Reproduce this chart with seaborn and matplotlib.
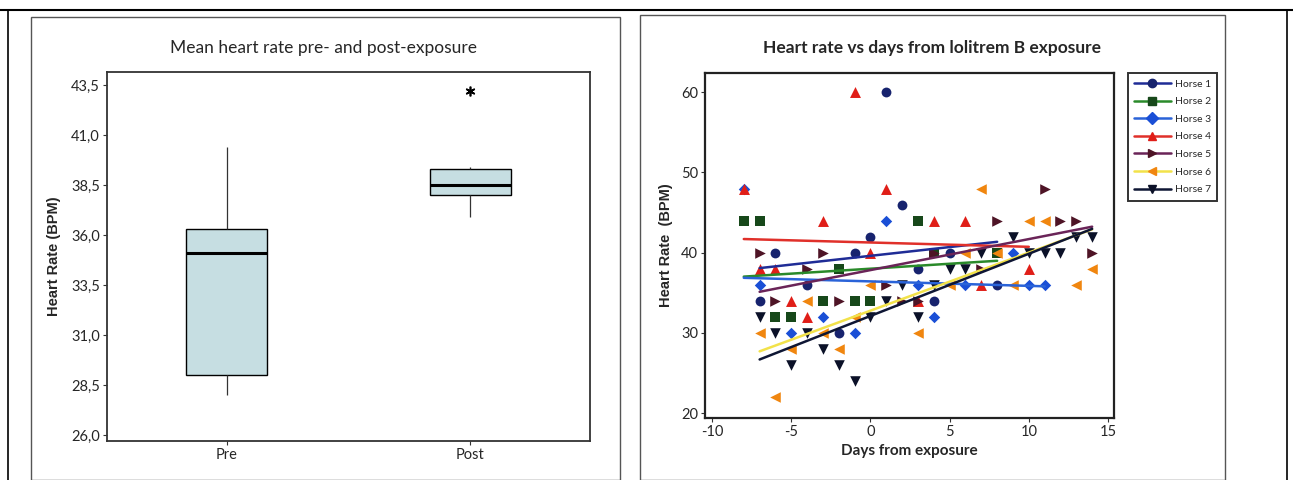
import numpy as np
import pandas as pd
import matplotlib
matplotlib.use("Agg")
import matplotlib.pyplot as plt
from matplotlib.lines import Line2D
from matplotlib.patches import Rectangle
import seaborn as sns

# ---------------- data ----------------
# Left panel: mean heart rate per horse, pre and post exposure
groups = ["Pre", "Post"]
pre_values = [28.0, 28.8, 29.2, 35.1, 36.0, 36.6, 40.4]
post_values = [36.9, 37.9, 38.1, 38.5, 39.2, 39.4, 43.2]

# Right panel: heart rate vs days from exposure, per horse
horse_names = ["Horse 1", "Horse 2", "Horse 3", "Horse 4", "Horse 5", "Horse 6", "Horse 7"]
h1_days = [1, 2, 0, -6, -1, 5, 3, -4, 8, -7, 4, -2]
h1_hr = [60, 46, 42, 40, 40, 40, 38, 36, 36, 34, 34, 30]
h2_days = [-8, -7, -6, -5, -3, -2, -1, 0, 3, 4, 8]
h2_hr = [44, 44, 32, 32, 34, 38, 34, 34, 44, 40, 40]
h3_days = [-8, 1, 9, -7, 3, 6, 10, 11, -3, 4, -5, -1]
h3_hr = [48, 44, 40, 36, 36, 36, 36, 36, 32, 32, 30, 30]
h4_days = [-1, -8, 1, -3, 4, 6, 0, -7, -6, 10, 7, -5, 3, -4]
h4_hr = [60, 48, 48, 44, 44, 44, 40, 38, 38, 38, 36, 34, 34, 32]
h5_days = [-7, -3, -4, -6, -2, 1, 2, 3, 4, 7, 8, 11, 12, 13, 14]
h5_hr = [40, 40, 38, 34, 34, 36, 34, 34, 40, 38, 44, 48, 44, 44, 40]
h6_days = [7, 10, 11, 6, 8, 0, 5, 9, 13, 14, -4, -1, -7, -3, 3, -5, -2, -6]
h6_hr = [48, 44, 44, 40, 40, 36, 36, 36, 36, 38, 34, 32, 30, 30, 30, 28, 28, 22]
h7_days = [9, 13, 14, 7, 10, 11, 12, 5, 6, 2, 4, 1, -7, 0, 3, -6, -4, -3, -5, -2, -1]
h7_hr = [42, 42, 42, 40, 40, 40, 40, 38, 38, 36, 36, 34, 32, 32, 32, 30, 30, 28, 26, 26, 24]

all_days = [h1_days, h2_days, h3_days, h4_days, h5_days, h6_days, h7_days]
all_hr = [h1_hr, h2_hr, h3_hr, h4_hr, h5_hr, h6_hr, h7_hr]

# ---------------- style ----------------
sns.set_style("white")
plt.rcParams["font.family"] = ["Lato", "DejaVu Sans"]
plt.rcParams["axes.unicode_minus"] = False

W, H = 1293, 480
fig = plt.figure(figsize=(W / 100, H / 100), dpi=100)
fig.patch.set_facecolor("white")

def fx(px):
    return px / W

def fy(py):
    return 1 - py / H

# decorative frame lines
fig.add_artist(Line2D([0, 1], [fy(10), fy(10)], transform=fig.transFigure, color="black", lw=1.5))
fig.add_artist(Line2D([fx(8), fx(8)], [fy(10), 0], transform=fig.transFigure, color="black", lw=1.2))
fig.add_artist(Line2D([fx(1287), fx(1287)], [fy(10), 0], transform=fig.transFigure, color="black", lw=1.2))
fig.add_artist(Rectangle((fx(31), 0), fx(620 - 31), fy(17), transform=fig.transFigure,
                         fill=False, edgecolor="#555555", lw=1.0))
fig.add_artist(Rectangle((fx(640), 0), fx(1225 - 640), fy(15), transform=fig.transFigure,
                         fill=False, edgecolor="#555555", lw=1.0))

# ---------------- left: boxplot ----------------
ax1 = fig.add_axes([fx(107), fy(441), fx(590 - 107), (441 - 72) / H])
df_box = pd.DataFrame({
    "Period": [groups[0]] * len(pre_values) + [groups[1]] * len(post_values),
    "HR": pre_values + post_values,
})
sns.boxplot(data=df_box, x="Period", y="HR", order=groups, ax=ax1, width=0.33,
            color="#c6dee2", saturation=1, linecolor="black", linewidth=1.0, showcaps=False,
            whis=1.5,
            medianprops=dict(linewidth=2.2, color="black"),
            whiskerprops=dict(linewidth=0.9, color="#333333"),
            flierprops=dict(marker=(6, 2, 0), markersize=7, markeredgecolor="black",
                            markeredgewidth=1.2, markerfacecolor="black"))
ax1.set_ylim(25.7, 44.15)
ax1.set_xlim(-0.49, 1.49)
yt = [26.0, 28.5, 31.0, 33.5, 36.0, 38.5, 41.0, 43.5]
ax1.set_yticks(yt)
ax1.set_yticklabels([f"{v:.1f}".replace(".", ",") for v in yt])
ax1.set_xlabel("")
ax1.set_ylabel("Heart Rate (BPM)", fontsize=10.5, fontweight="bold",
               family=["Liberation Sans", "DejaVu Sans"], labelpad=7)
ax1.tick_params(axis="both", direction="out", length=3, width=0.8, labelsize=10.5,
                left=True, bottom=True, pad=2, color="#333333")
for s in ax1.spines.values():
    s.set_color("#333333")
    s.set_linewidth(1.3)
    s.set_visible(True)
fig.text(fx(323), fy(48), "Mean heart rate pre- and post-exposure", ha="center", va="center",
         fontsize=12.5)

# ---------------- right: scatter + regression ----------------
ax2 = fig.add_axes([fx(705), fy(418), fx(1114 - 705), (418 - 73) / H])
markers = ["o", "s", "D", "^", ">", "<", "v"]
mcolors = ["#17236e", "#17481a", "#1a4fd6", "#e01e18", "#4e1426", "#f0860f", "#0b1128"]
lcolors = ["#1f2c96", "#2a8a2a", "#2a63d8", "#e0302a", "#6a2458", "#f2e24a", "#0e1634"]
msizes = [50, 42, 34, 62, 58, 58, 58]

for i in range(len(horse_names)):
    sns.regplot(x=np.array(all_days[i]), y=np.array(all_hr[i]), ax=ax2, ci=None,
                marker=markers[i], truncate=True,
                scatter_kws=dict(s=msizes[i], color=mcolors[i], linewidths=0, alpha=1, zorder=3),
                line_kws=dict(color=lcolors[i], lw=1.8, zorder=4))

ax2.set_xlim(-10.45, 15.38)
ax2.set_ylim(19.4, 62.4)
ax2.set_xticks([-10, -5, 0, 5, 10, 15])
ax2.set_yticks([20, 30, 40, 50, 60])
ax2.set_xlabel("Days from exposure", fontsize=11, fontweight="bold", labelpad=4)
ax2.set_ylabel("Heart Rate  (BPM)", fontsize=10.5, fontweight="bold",
               family=["Liberation Sans", "DejaVu Sans"], labelpad=6)
ax2.tick_params(axis="both", direction="out", length=3, width=0.8, labelsize=10.5,
                left=True, bottom=True, pad=2, color="#333333")
for s in ax2.spines.values():
    s.set_color("#222222")
    s.set_linewidth(1.6)
    s.set_visible(True)
fig.text(fx(932), fy(48), "Heart rate vs days from lolitrem B exposure", ha="center", va="center",
         fontsize=12.5, fontweight="bold")

handles = [Line2D([0], [0], color=lcolors[i], lw=1.8, marker=markers[i], markersize=6,
                  markerfacecolor=mcolors[i], markeredgecolor=mcolors[i], label=horse_names[i])
           for i in range(len(horse_names))]
leg = fig.legend(handles=handles, loc="upper left", bbox_to_anchor=(fx(1128), fy(73)),
                 fontsize=7.5, frameon=True, fancybox=False, edgecolor="black",
                 handlelength=3.5, labelspacing=0.8, borderpad=0.6, handletextpad=0.4,
                 borderaxespad=0)
leg.get_frame().set_linewidth(1.4)

fig.savefig("out.png", dpi=100, facecolor="white")
